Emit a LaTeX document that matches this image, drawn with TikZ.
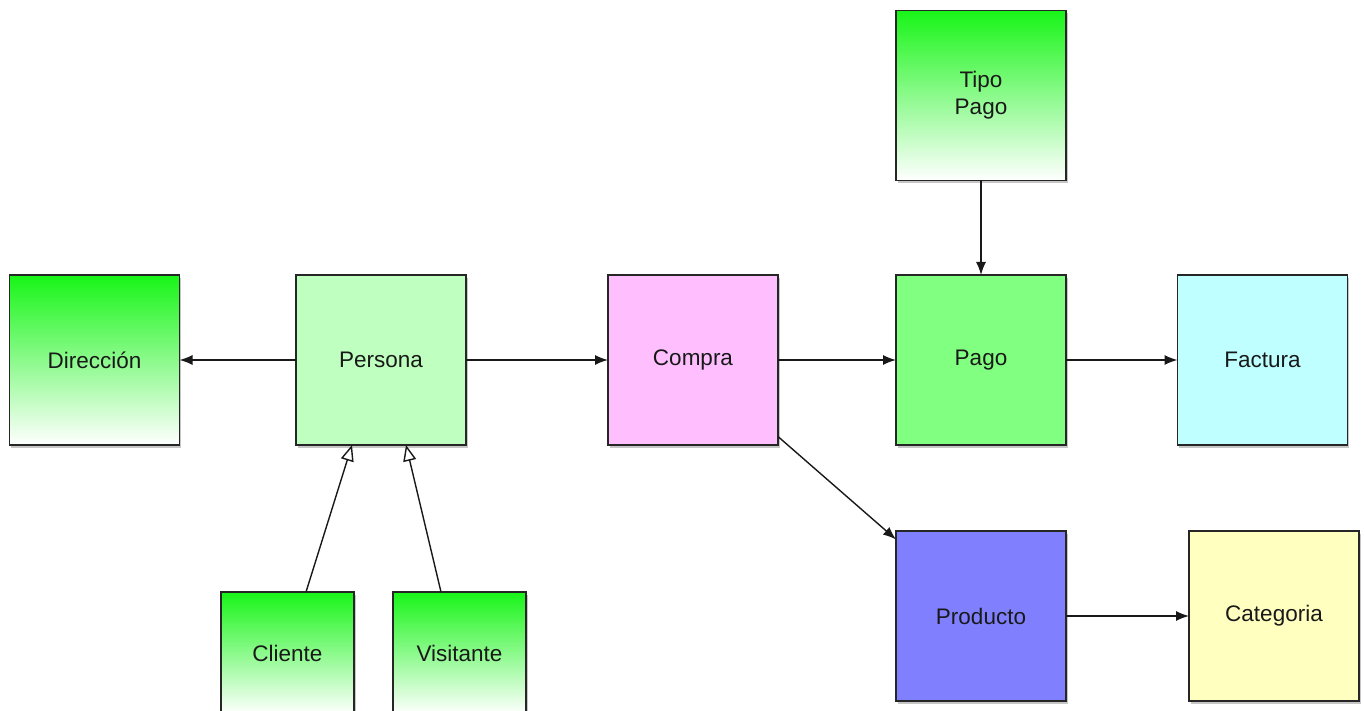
\documentclass[tikz,border=0pt]{standalone}
\usepackage{fontspec}
\setmainfont{Liberation Sans}
\usetikzlibrary{arrows.meta,shadows,calc}
\definecolor{gtop}{RGB}{24,245,24}
\definecolor{cpersona}{RGB}{191,255,191}
\definecolor{ccompra}{RGB}{255,191,255}
\definecolor{cpago}{RGB}{128,255,128}
\definecolor{cfactura}{RGB}{191,255,255}
\definecolor{cproducto}{RGB}{128,128,255}
\definecolor{ccategoria}{RGB}{255,255,191}
\definecolor{txt}{RGB}{25,25,25}
\tikzset{
  box/.style={draw=black!85, line width=1.2pt, minimum width=170pt, minimum height=170pt,
    inner sep=0pt, outer sep=0pt, font=\fontsize{22.5}{27}\selectfont, text=txt, align=center,
    drop shadow={shadow xshift=1.5pt, shadow yshift=-3pt, opacity=0.45}},
  gbox/.style={box, top color=gtop, bottom color=white},
  conn/.style={line width=1.4pt, draw=black!90, -{Latex[length=13pt,width=10pt]}},
  inh/.style={line width=1.4pt, draw=black!90, -{Triangle[open,length=16pt,width=13pt,fill=white]}}
}
\begin{document}
\begin{tikzpicture}[x=1pt,y=1pt]
\useasboundingbox (0,0) rectangle (1365,711);
\node[gbox] (dir) at (94.5,351) {Dirección};
\node[box, fill=cpersona] (per) at (381,351) {Persona};
\node[box, fill=ccompra] (com) at (693,351) {Compra};
\node[box, fill=cpago] (pag) at (981,351) {Pago};
\node[box, fill=cfactura] (fac) at (1262.5,351) {Factura};
\node[gbox] (tip) at (981,615.5) {Tipo\\Pago};
\node[box, fill=cproducto] (pro) at (981,95) {Producto};
\node[box, fill=ccategoria] (cat) at (1274,95) {Categoria};
\node[gbox, minimum width=133pt, minimum height=122pt] (cli) at (287.5,58) {Cliente};
\node[gbox, minimum width=133pt, minimum height=122pt] (vis) at (459.5,58) {Visitante};

\draw[conn] (per.west) -- (dir.east);
\draw[conn] (per.east) -- (com.west);
\draw[conn] (com.east) -- (pag.west);
\draw[conn] (pag.east) -- (fac.west);
\draw[conn] (tip.south) -- (pag.north);
\draw[conn] (com.-42) -- (pro.138);
\draw[conn] (pro.east) -- (cat.west);
\draw[inh] ($(cli.north)+(18.5,0)$) -- ($(per.south)+(-29,0)$);
\draw[inh] ($(vis.north)+(-18.5,0)$) -- ($(per.south)+(25,0)$);
\end{tikzpicture}
\end{document}
